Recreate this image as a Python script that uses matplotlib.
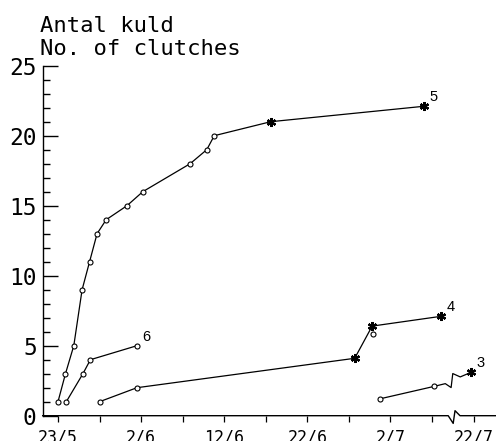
import matplotlib
matplotlib.use('Agg')
import matplotlib.pyplot as plt

# days after 23/5, number of clutches
s5_days = [0.0, 0.9, 1.9, 2.9, 3.8, 4.7, 5.8, 8.3, 10.2, 15.9, 17.9, 18.8, 25.6, 44.0]
s5_vals = [1, 3, 5, 9, 11, 13, 14, 15, 16, 18, 19, 20, 21, 22.1]
s5_star = [False] * 12 + [True] * 2

s4_days = [5.0, 9.5, 35.7, 37.8, 46.1]
s4_vals = [1, 2, 4.1, 6.4, 7.1]
s4_star = [False, False, True, True, True]
s4_extra_day, s4_extra_val = 37.9, 5.85   # lone circle under the star

s6_days = [1.0, 3.0, 3.9, 9.5]
s6_vals = [1, 3, 4, 5]
s6_star = [False] * 4

s3_days = [38.7, 45.3, 59.7]
s3_vals = [1.2, 2.1, 3.1]
s3_star = [False, False, True]

tick_days = [0, 10, 20, 30, 40, 60]
tick_labels = ['23/5', '2/6', '12/6', '22/6', '2/7', '22/7']
minor_days = [5, 15, 25, 35, 45]

BREAK = 47.5   # axis break (plot units)
SKIP = 10      # days cut out by the break


def to_plot(d):
    return d if d < BREAK else d - SKIP


fig = plt.figure(figsize=(4.96, 4.41), dpi=100)
ax = fig.add_axes([42.7 / 496, (441 - 415.7) / 441, 1 - 42.7 / 496, 350 / 441])
ax.set_xlim(-(58 - 42.7) / 8.311, (496 - 58) / 8.311)
ax.set_ylim(0, 25)

for s in ['top', 'right', 'bottom']:
    ax.spines[s].set_visible(False)
ax.spines['left'].set_linewidth(1.0)

lw = 0.9


def draw(days, vals, star, label, zig=False):
    xs = [to_plot(d) for d in days]
    if zig:
        # line with break symbol before the last point
        y0 = vals[-2]
        lx = xs[:-1] + [BREAK - 0.9, BREAK - 0.2, BREAK, BREAK + 0.9] + [xs[-1]]
        ly = vals[:-1] + [y0 + 0.19, y0 - 0.09, y0 + 0.91, y0 + 0.67] + [vals[-1]]
        ax.plot(lx, ly, color='black', lw=lw, clip_on=False)
    else:
        ax.plot(xs, vals, color='black', lw=lw, clip_on=False)
    for x, y, st in zip(xs, vals, star):
        if st:
            ax.plot(x, y, marker=(6, 2, 0), ms=6.5, mew=1.6, color='black',
                    clip_on=False, zorder=4)
        else:
            ax.plot(x, y, marker='o', ms=3.6, mfc='white', mec='black', mew=0.8,
                    clip_on=False, zorder=4)
    ax.annotate(label, (xs[-1], vals[-1]), xytext=(4, 1.5), textcoords='offset points',
                ha='left', va='bottom', fontsize=10.5, family='Liberation Sans')


draw(s5_days, s5_vals, s5_star, '5')
draw(s4_days, s4_vals, s4_star, '4')
ax.plot(to_plot(s4_extra_day), s4_extra_val, marker='o', ms=3.6, mfc='white',
        mec='black', mew=0.8, zorder=4)
draw(s6_days, s6_vals, s6_star, '6')
draw(s3_days, s3_vals, s3_star, '3', zig=True)

# x axis line with break
x0, x1 = ax.get_xlim()
ax.plot([x0, BREAK - 0.55, BREAK + 0.05, BREAK + 0.27, BREAK + 0.87, x1],
        [0, 0, -0.55, 0.36, 0, 0], color='black', lw=1.0, clip_on=False)

ax.set_xticks([to_plot(d) for d in tick_days])
ax.set_xticklabels(tick_labels, family='DejaVu Sans Mono', fontsize=12)
ax.set_xticks([to_plot(d) for d in minor_days], minor=True)
ax.tick_params(axis='x', which='both', direction='out', length=4.3, width=0.9, pad=5)

ax.set_yticks(range(0, 26, 5))
ax.set_yticklabels([str(v) for v in range(0, 26, 5)], family='DejaVu Sans Mono', fontsize=16.5)
ax.set_yticks(range(0, 26), minor=True)
ax.tick_params(axis='y', which='major', direction='in', length=10.8, width=1.0, pad=4.3)
ax.tick_params(axis='y', which='minor', direction='in', length=5, width=1.0)

fig.text(40 / 496, 1 - 31.7 / 441, 'Antal kuld', family='DejaVu Sans Mono',
         fontsize=16, va='baseline', ha='left')
fig.text(40 / 496, 1 - 55 / 441, 'No. of clutches', family='DejaVu Sans Mono',
         fontsize=16, va='baseline', ha='left')

fig.savefig('out.png', dpi=100)
